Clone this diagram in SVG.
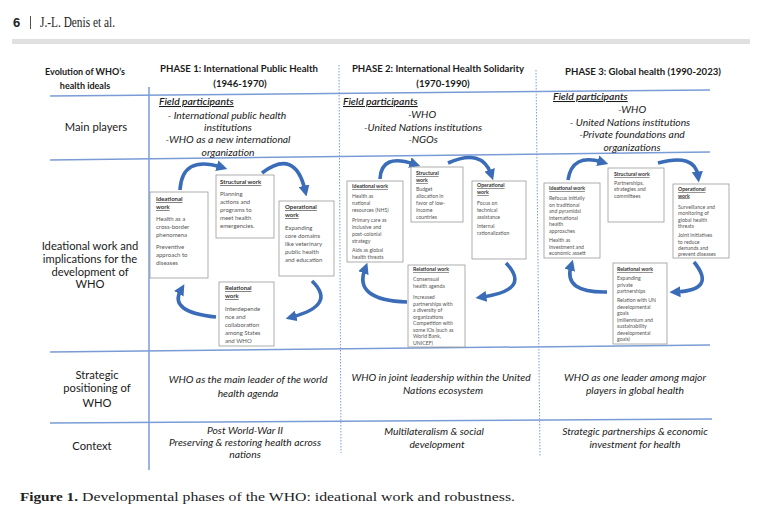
<svg xmlns="http://www.w3.org/2000/svg" width="763" height="511" viewBox="0 0 763 511">
<style>
text{font-family:Lato,"Liberation Sans",sans-serif;fill:#1a1a1a}
.hd{font-weight:bold;font-size:9.6px;text-anchor:middle}
.lbl{font-size:11.2px;text-anchor:middle}
.it{font-style:italic;font-size:10.3px;text-anchor:middle}
.fp{font-style:italic;font-weight:600;font-size:10.3px;text-decoration:underline}
.bt{font-weight:bold;font-size:6px;text-decoration:underline;fill:#333}
.bb{font-size:6px;fill:#555}
.bt2{font-weight:bold;font-size:5.2px;text-decoration:underline;fill:#333}
.bb2{font-size:5.2px;fill:#555}
.box{fill:#fff;stroke:#9a9a9a;stroke-width:0.8}
.ln{stroke:#7a9cd6;stroke-width:1.5;fill:none}
.dl{stroke:#7a9cd6;stroke-width:1;stroke-dasharray:1.5 1.5;fill:none}
.ar{stroke:#3b6cb7;stroke-width:3.6;fill:none;marker-end:url(#ah)}
.serif{font-family:"Liberation Serif",serif;fill:#222}
</style>
<defs>
<marker id="ah" markerUnits="userSpaceOnUse" markerWidth="11" markerHeight="11" refX="4" refY="5" orient="auto" viewBox="0 0 10 10">
<path d="M0,0 L10,5 L0,10 Z" fill="#3b6cb7"/>
</marker>
</defs>

<g id="page-header">
<text x="13" y="27" style="font-family:'Liberation Sans',sans-serif;font-weight:bold;font-size:13px;fill:#222">6</text>
<line x1="30.5" y1="16" x2="30.5" y2="29" stroke="#222" stroke-width="0.8"/>
<text class="serif" x="40" y="27" font-size="14" textLength="75" lengthAdjust="spacingAndGlyphs">J.-L. Denis et al.</text>
<rect x="12" y="39" width="738" height="5" fill="#e0e0e0"/>
</g>

<g id="grid">
<path class="ln" d="M50,96 L710,90"/>
<path class="ln" d="M50,160 L710,152"/>
<path class="ln" d="M50,352 L710,345"/>
<path class="ln" d="M50,423 L712,419"/>
<path class="ln" d="M149,87 L149,470"/>
<path class="dl" d="M339,65 L341,453"/>
<path class="dl" d="M536,70 L540,457"/>
</g>

<g id="header-row">
<text class="hd" x="85" y="75" style="font-size:9px">Evolution of WHO’s</text>
<text class="hd" x="85" y="89" style="font-size:9px">health ideals</text>
<text class="hd" x="239" y="72">PHASE 1: International Public Health</text>
<text class="hd" x="240" y="87">(1946-1970)</text>
<text class="hd" x="438" y="72">PHASE 2: International Health Solidarity</text>
<text class="hd" x="443" y="87">(1970-1990)</text>
<text class="hd" x="643" y="75">PHASE 3: Global health (1990-2023)</text>
</g>

<g id="main-players">
<text class="lbl" x="96" y="131">Main players</text>
<text class="fp" x="159" y="105">Field participants</text>
<text class="it" x="227" y="119">- International public health</text>
<text class="it" x="228" y="131">institutions</text>
<text class="it" x="228" y="143">-WHO as a new international</text>
<text class="it" x="228" y="156">organization</text>
<text class="fp" x="343" y="105">Field participants</text>
<text class="it" x="422" y="118">-WHO</text>
<text class="it" x="423" y="131">-United Nations institutions</text>
<text class="it" x="423" y="143">-NGOs</text>
<text class="fp" x="553" y="100">Field participants</text>
<text class="it" x="632" y="113">-WHO</text>
<text class="it" x="630" y="126">- United Nations institutions</text>
<text class="it" x="632" y="138">-Private foundations and</text>
<text class="it" x="632" y="151">organizations</text>
</g>

<g id="ideational-label">
<text class="lbl" x="90" y="250">Ideational work and</text>
<text class="lbl" x="90" y="263">implications for the</text>
<text class="lbl" x="90" y="276">development of</text>
<text class="lbl" x="90" y="288">WHO</text>
</g>

<g id="connectors">
<path class="ar" d="M180,190 Q182,155 221,167"/>
<path class="ar" d="M262,173 Q295,148 305,190"/>
<path class="ar" d="M312,281 Q337,305 292,317"/>
<path class="ar" d="M216,317 Q168,312 181,290"/>
<path class="ar" d="M380,179 Q381,153 414,164"/>
<path class="ar" d="M448,163 Q482,148 491,174"/>
<path class="ar" d="M506,263 Q532,290 482,297"/>
<path class="ar" d="M407,302 Q353,300 365,269"/>
<path class="ar" d="M568,180 Q572,153 602,162"/>
<path class="ar" d="M658,163 Q695,153 698,176"/>
<path class="ar" d="M694,262 Q717,290 676,292"/>
<path class="ar" d="M607,292 Q563,293 571,266"/>
</g>

<g id="p1-ideational">
<rect class="box" x="150" y="192" width="58" height="86"/>
<text class="bt" x="156" y="201">Ideational</text>
<text class="bt" x="156" y="209">work</text>
<text class="bb" x="156" y="221">Health as a</text>
<text class="bb" x="156" y="229">cross-border</text>
<text class="bb" x="156" y="237">phenomena</text>
<text class="bb" x="156" y="249">Preventive</text>
<text class="bb" x="156" y="257">approach to</text>
<text class="bb" x="156" y="265">diseases</text>
</g>
<g id="p1-structural">
<rect class="box" x="216" y="175" width="58" height="63"/>
<text class="bt" x="220" y="184">Structural work</text>
<text class="bb" x="220" y="196">Planning</text>
<text class="bb" x="220" y="204">actions and</text>
<text class="bb" x="220" y="212">programs to</text>
<text class="bb" x="220" y="220">meet health</text>
<text class="bb" x="220" y="228">emergencies.</text>
</g>
<g id="p1-operational">
<rect class="box" x="279" y="201" width="55" height="75"/>
<text class="bt" x="285" y="209">Operational</text>
<text class="bt" x="285" y="217">work</text>
<text class="bb" x="285" y="230">Expanding</text>
<text class="bb" x="285" y="238">core domains</text>
<text class="bb" x="285" y="246">like veterinary</text>
<text class="bb" x="285" y="254">public health</text>
<text class="bb" x="285" y="262">and education</text>
</g>
<g id="p1-relational">
<rect class="box" x="219" y="282" width="55" height="64"/>
<text class="bt" x="225" y="290">Relational</text>
<text class="bt" x="225" y="298">work</text>
<text class="bb" x="225" y="311">Interdepende</text>
<text class="bb" x="225" y="319">nce and</text>
<text class="bb" x="225" y="327">collaboration</text>
<text class="bb" x="225" y="335">among States</text>
<text class="bb" x="225" y="343">and WHO</text>
</g>

<g id="p2-ideational">
<rect class="box" x="347" y="181" width="56" height="81"/>
<text class="bt2" x="352" y="188">Ideational work</text>
<text class="bb2" x="352" y="198">Health as</text>
<text class="bb2" x="352" y="205">national</text>
<text class="bb2" x="352" y="212">resources (NHS)</text>
<text class="bb2" x="352" y="222">Primary care as</text>
<text class="bb2" x="352" y="229">inclusive and</text>
<text class="bb2" x="352" y="236">post-colonial</text>
<text class="bb2" x="352" y="243">strategy</text>
<text class="bb2" x="352" y="252">Aids as global</text>
<text class="bb2" x="352" y="259">health threats</text>
</g>
<g id="p2-structural">
<rect class="box" x="411" y="167" width="52" height="55"/>
<text class="bt2" x="416" y="175">Structural</text>
<text class="bt2" x="416" y="182">work</text>
<text class="bb2" x="416" y="191">Budget</text>
<text class="bb2" x="416" y="198">allocation in</text>
<text class="bb2" x="416" y="205">favor of low-</text>
<text class="bb2" x="416" y="212">income</text>
<text class="bb2" x="416" y="219">countries</text>
</g>
<g id="p2-operational">
<rect class="box" x="472" y="181" width="54" height="78"/>
<text class="bt2" x="477" y="187">Operational</text>
<text class="bt2" x="477" y="194">work</text>
<text class="bb2" x="477" y="205">Focus on</text>
<text class="bb2" x="477" y="212">technical</text>
<text class="bb2" x="477" y="219">assistance</text>
<text class="bb2" x="477" y="228">Internal</text>
<text class="bb2" x="477" y="235">rationalization</text>
</g>
<g id="p2-relational">
<rect class="box" x="408" y="265" width="57" height="82"/>
<text class="bt2" x="413" y="271">Relational work</text>
<text class="bb2" x="413" y="281">Consensual</text>
<text class="bb2" x="413" y="288">health agenda</text>
<text class="bb2" x="413" y="299">Increased</text>
<text class="bb2" x="413" y="305.5">partnerships with</text>
<text class="bb2" x="413" y="312">a diversity of</text>
<text class="bb2" x="413" y="318.5">organizations</text>
<text class="bb2" x="413" y="325">Competition with</text>
<text class="bb2" x="413" y="331.5">some IOs (such as</text>
<text class="bb2" x="413" y="338">World Bank,</text>
<text class="bb2" x="413" y="344.5">UNICEF)</text>
</g>

<g id="p3-ideational">
<rect class="box" x="544" y="183" width="56" height="75"/>
<text class="bt2" x="549" y="190">Ideational work</text>
<text class="bb2" x="549" y="200">Refocus initially</text>
<text class="bb2" x="549" y="206.5">on traditional</text>
<text class="bb2" x="549" y="213">and pyramidal</text>
<text class="bb2" x="549" y="219.5">international</text>
<text class="bb2" x="549" y="226">health</text>
<text class="bb2" x="549" y="232.5">approaches</text>
<text class="bb2" x="549" y="242">Health as</text>
<text class="bb2" x="549" y="248.5">investment and</text>
<text class="bb2" x="549" y="255">economic assett</text>
</g>
<g id="p3-structural">
<rect class="box" x="608" y="168" width="56" height="54"/>
<text class="bt2" x="614" y="176">Structural work</text>
<text class="bb2" x="614" y="185">Partnerships,</text>
<text class="bb2" x="614" y="191">strategies and</text>
<text class="bb2" x="614" y="197.5">committees</text>
</g>
<g id="p3-operational">
<rect class="box" x="673" y="184" width="56" height="74"/>
<text class="bt2" x="678" y="191">Operational</text>
<text class="bt2" x="678" y="197.5">work</text>
<text class="bb2" x="678" y="209">Surveillance and</text>
<text class="bb2" x="678" y="215">monitoring of</text>
<text class="bb2" x="678" y="221.5">global health</text>
<text class="bb2" x="678" y="228">threats</text>
<text class="bb2" x="678" y="237">Joint initiatives</text>
<text class="bb2" x="678" y="243.5">to reduce</text>
<text class="bb2" x="678" y="250">demands and</text>
<text class="bb2" x="678" y="256">prevent diseases</text>
</g>
<g id="p3-relational">
<rect class="box" x="613" y="263" width="54" height="81"/>
<text class="bt2" x="617" y="271">Relational work</text>
<text class="bb2" x="617" y="280">Expanding</text>
<text class="bb2" x="617" y="286.5">private</text>
<text class="bb2" x="617" y="293">partnerships</text>
<text class="bb2" x="617" y="302">Relation with UN</text>
<text class="bb2" x="617" y="308.5">developmental</text>
<text class="bb2" x="617" y="315">goals</text>
<text class="bb2" x="617" y="321.5">(millennium and</text>
<text class="bb2" x="617" y="328">sustainability</text>
<text class="bb2" x="617" y="334.5">developmental</text>
<text class="bb2" x="617" y="341">goals)</text>
</g>

<g id="strategic-row">
<text class="lbl" x="97" y="379">Strategic</text>
<text class="lbl" x="97" y="392">positioning of</text>
<text class="lbl" x="97" y="407">WHO</text>
<text class="it" x="248" y="383">WHO as the main leader of the world</text>
<text class="it" x="248" y="397">health agenda</text>
<text class="it" x="441" y="381">WHO in joint leadership within the United</text>
<text class="it" x="443" y="394">Nations ecosystem</text>
<text class="it" x="635" y="381">WHO as one leader among major</text>
<text class="it" x="635" y="394">players in global health</text>
</g>

<g id="context-row">
<text class="lbl" x="92" y="450">Context</text>
<text class="it" x="245" y="434">Post World-War II</text>
<text class="it" x="245" y="446">Preserving &amp; restoring health across</text>
<text class="it" x="245" y="458">nations</text>
<text class="it" x="434" y="435">Multilateralism &amp; social</text>
<text class="it" x="437" y="448">development</text>
<text class="it" x="635" y="435">Strategic partnerships &amp; economic</text>
<text class="it" x="635" y="448">investment for health</text>
</g>

<g id="caption">
<text class="serif" x="20" y="501" font-size="12.5" font-weight="bold" textLength="58" lengthAdjust="spacingAndGlyphs">Figure 1.</text>
<text class="serif" x="82" y="501" font-size="12.5" textLength="433" lengthAdjust="spacingAndGlyphs">Developmental phases of the WHO: ideational work and robustness.</text>
</g>
</svg>
